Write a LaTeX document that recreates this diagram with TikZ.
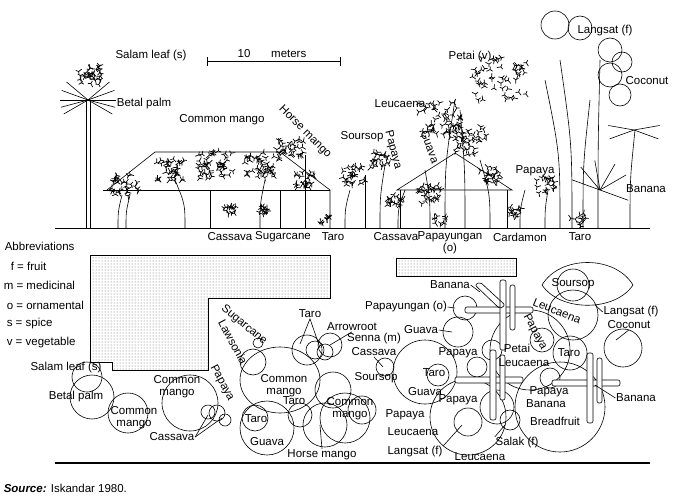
\documentclass[tikz,border=0pt]{standalone}
\usepackage{fontspec}
\setmainfont{Liberation Sans}
\usetikzlibrary{patterns}
\begin{document}
\pgfmathsetseed{7}
\newcommand\crown[4]{\foreach \k in {1,...,#4}{\pgfmathsetmacro\xx{#1+rand*#3}\pgfmathsetmacro\yy{#2+rand*#3*0.8}\pgfmathsetmacro\aa{rand*180}\draw[leaf] (\xx,\yy) -- ++(\aa:4) (\xx,\yy) -- ++(\aa+120:3) (\xx,\yy) -- ++(\aa+240:3);}}
\begin{tikzpicture}[x=1pt,y=-1pt,line width=0.6pt,
  lbl/.style={font=\fontsize{11.5}{12}\selectfont,inner sep=0.5pt},
  leaf/.style={line width=0.7pt},
  plan/.style={line width=0.6pt},
  bar/.style={line width=0.6pt,rounded corners=2pt}]
\useasboundingbox (0,0) rectangle (676,495);
% ---------- elevation ----------
\coordinate (g1) at (55,228); \coordinate (g2) at (650,228);
\draw[line width=0.8pt] (g1) -- (g2);
\coordinate (s1) at (207,61); \coordinate (s2) at (340,61);
\draw (s1) -- (s2); \draw (207,57)--(207,66); \draw (340,57)--(340,66);
\node[lbl] (scale) at (272,54) {10\hspace{1.8em}meters};
% house 1
\draw (103,190) -- (330,190);
\draw (107,190) -- (155,152) -- (280,152) -- (330,190) -- (330,228);
% house 2
\draw (397,190) -- (455,153) -- (512,190) -- cycle;
\draw (400,190) -- (400,228); \draw (507,190) -- (507,228);
% trunks
\foreach \a/\b/\c/\d in {118/228/122/195, 126/228/130/195, 185/228/175/180, 210/228/210/190,
  260/228/265/180, 280/228/280/190, 305/228/305/155, 345/228/350/190, 365/228/365/175, 380/228/385/165,
  398/228/405/190, 430/228/425/170, 445/228/455/100, 465/228/460/110, 490/228/480/160, 520/228/525/190,
  545/228/548/190, 560/228/545/80, 572/228/560/60, 583/228/590/100, 598/228/600/60, 630/228/635/130}
  {\draw (\a,\b) .. controls (\a,{(\b+\d)/2}) .. (\c,\d);}
\draw (86,228) -- (86,100); \draw (90,228) -- (90,100);
% palm fronds
\foreach \ang in {150,165,180,200,220,320,340,0,15,30}{\draw (88,100) -- ++(\ang:28);}
\foreach \ang in {160,190,350,20}{\draw (634,130) -- ++(\ang:26);}
% crowns
\crown{90}{75}{12}{30}
\crown{125}{185}{14}{30}
\crown{170}{170}{14}{35}
\crown{215}{165}{18}{45}
\crown{260}{165}{16}{40}
\crown{290}{150}{14}{30}
\crown{305}{180}{10}{20}
\crown{355}{175}{12}{25}
\crown{380}{160}{10}{20}
\crown{395}{200}{8}{15}
\crown{430}{195}{12}{25}
\crown{440}{120}{22}{50}
\crown{470}{140}{18}{35}
\crown{490}{175}{10}{20}
\crown{500}{80}{28}{50}
\crown{545}{185}{10}{18}
\crown{230}{210}{6}{12}
\crown{263}{210}{6}{12}
\crown{325}{220}{5}{8}
\crown{440}{220}{6}{8}
\crown{515}{212}{6}{12}
\crown{578}{220}{8}{10}
\foreach \cx/\cy/\r in {555/25/14, 580/28/12, 610/50/12, 622/62/10, 610/75/12, 620/95/11}{\draw (\cx,\cy) circle (\r);}
% banana leaves
\foreach \ang in {200,230,260,300,330,20}{\draw (600,190) -- ++(\ang:30);}
% elevation labels
\node[lbl] (e1) at (151,56) {Salam leaf (s)};
\node[lbl] (e2) at (144,104) {Betal palm};
\node[lbl] (e3) at (222,120) {Common mango};
\node[lbl,rotate=-45] (e4) at (305,132) {Horse mango};
\node[lbl] (e5) at (362,137) {Soursop};
\node[lbl,rotate=-75] (e6) at (393,150) {Papaya};
\node[lbl] (e7) at (400,104) {Leucaena};
\node[lbl,rotate=-70] (e8) at (430,147) {Guava};
\node[lbl] (e9) at (470,57) {Petai (v)};
\node[lbl] (e10) at (605,31) {Langsat (f)};
\node[lbl] (e11) at (647,81) {Coconut};
\node[lbl] (e12) at (535,171) {Papaya};
\node[lbl] (e13) at (646,189) {Banana};
\node[lbl] (e14) at (230,237) {Cassava};
\node[lbl] (e15) at (283,237) {Sugarcane};
\node[lbl] (e16) at (333,237) {Taro};
\node[lbl] (e17) at (396,237) {Cassava};
\node[lbl] (e18) at (450,237) {Papayungan};
\node[lbl] (e18b) at (450,249) {(o)};
\node[lbl] (e19) at (520,237) {Cardamon};
\node[lbl] (e20) at (580,237) {Taro};
% abbreviations
\node[lbl,anchor=west] (ab) at (4,246) {Abbreviations};
\node[lbl,anchor=west] (ab1) at (10,266) {f = fruit};
\node[lbl,anchor=west] (ab2) at (3,285) {m = medicinal};
\node[lbl,anchor=west] (ab3) at (6,305) {o = ornamental};
\node[lbl,anchor=west] (ab4) at (6,324) {s = spice};
\node[lbl,anchor=west] (ab5) at (6,343) {v = vegetable};
% ---------- plan ----------
\draw[pattern=dots,pattern color=black!60] (90,255) -- (330,255) -- (330,298) -- (208,298) -- (208,370) -- (112,370) -- (112,362) -- (90,362) -- cycle;
\draw[pattern=dots,pattern color=black!60] (396,258) rectangle (516,276);
\coordinate (b1) at (55,463); \coordinate (b2) at (650,463);
\draw[line width=1.4pt] (b1) -- (b2);
\foreach \cx/\cy/\r in {87/377/15, 92/397/22, 128/413/20, 190/403/28, 217/413/8, 208/412/7, 225/420/6,
  253/362/13, 258/343/5, 307/350/15, 315/350/9, 325/352/8, 267/428/27, 255/418/13, 333/390/18,
  345/418/25, 325/425/22, 362/410/14, 385/367/9, 425/372/32, 438/375/11, 465/308/12, 458/332/15,
  492/350/10, 477/367/10, 468/417/38, 468/422/14, 497/407/17, 510/420/10, 560/407/45, 530/350/40,
  542/340/12, 550/378/10, 570/353/17, 573/315/25, 573/285/16, 623/348/19, 330/345/12, 300/415/12}
  {\draw[plan] (\cx,\cy) circle (\r);}
\draw[plan] (280,380) ellipse (40 and 33);
\draw[plan] (542,285) .. controls (560,255) and (615,255) .. (633,285) .. controls (615,312) and (560,312) .. (542,285);
% banana crosses
\foreach \cx/\cy in {503/310, 493/380, 590/383}{
  \draw[bar,fill=white] ({\cx-38},{\cy-3}) rectangle ({\cx+30},{\cy+3});
  \draw[bar,fill=white] ({\cx-3},{\cy-30}) rectangle ({\cx+3},{\cy+40});
  \draw[bar,fill=white] ({\cx+7},{\cy-25}) rectangle ({\cx+12},{\cy+20});}
\draw[bar] (475,285) -- (480,282) -- (505,305) -- (500,309) -- cycle;
% plan labels
\node[lbl] (p1) at (66,368) {Salam leaf (s)};
\node[lbl] (p2) at (76,397) {Betal palm};
\node[lbl,align=center] (p3) at (134,418) {Common\\mango};
\node[lbl,align=center] (p4) at (177,387) {Common\\mango};
\node[lbl,rotate=-62] (p5) at (222,383) {Papaya};
\node[lbl] (p6) at (172,437) {Cassava};
\node[lbl,rotate=-40] (p7) at (244,325) {Sugarcane};
\node[lbl,rotate=-62] (p8) at (233,342) {Lawsonia};
\node[lbl] (p9) at (310,314) {Taro};
\node[lbl] (p10) at (352,327) {Arrowroot};
\node[lbl] (p11) at (374,339) {Senna (m)};
\node[lbl] (p12) at (374,352) {Cassava};
\node[lbl,align=center] (p13) at (284,386) {Common\\mango};
\node[lbl] (p14) at (294,401) {Taro};
\node[lbl] (p15) at (256,419) {Taro};
\node[lbl] (p16) at (267,442) {Guava};
\node[lbl] (p17) at (322,455) {Horse mango};
\node[lbl] (p18) at (376,378) {Soursop};
\node[lbl,align=center] (p19) at (350,409) {Common\\mango};
\node[lbl] (p20) at (405,415) {Papaya};
\node[lbl] (p21) at (413,432) {Leucaena};
\node[lbl] (p22) at (415,452) {Langsat (f)};
\node[lbl] (p23) at (480,457) {Leucaena};
\node[lbl] (p24) at (517,443) {Salak (f)};
\node[lbl] (p25) at (555,421) {Breadfruit};
\node[lbl] (p26) at (546,404) {Banana};
\node[lbl] (p27) at (549,392) {Papaya};
\node[lbl] (p28) at (636,398) {Banana};
\node[lbl] (p29) at (524,363) {Leucaena};
\node[lbl] (p30) at (517,348) {Petai};
\node[lbl] (p31) at (569,353) {Taro};
\node[lbl] (p32) at (458,353) {Papaya};
\node[lbl] (p33) at (434,373) {Taro};
\node[lbl] (p34) at (425,392) {Guava};
\node[lbl] (p35) at (421,330) {Guava};
\node[lbl] (p36) at (406,307) {Papayungan (o)};
\node[lbl] (p37) at (450,285) {Banana};
\node[lbl] (p38) at (573,284) {Soursop};
\node[lbl,rotate=-22] (p39) at (557,311) {Leucaena};
\node[lbl,rotate=-62] (p40) at (535,332) {Papaya};
\node[lbl] (p41) at (631,312) {Langsat (f)};
\node[lbl] (p42) at (629,325) {Coconut};
\node[lbl] (p43) at (458,400) {Papaya};
% leaders
\coordinate (c1) at (208,415); \coordinate (c2) at (222,418);
\draw (p6.east) -- (c1); \draw (p6.east) -- (c2);
\coordinate (t1) at (300,344); \coordinate (t2) at (320,348);
\draw (p9.south) -- (t1); \draw (p9.south) -- (t2);
\coordinate (ar) at (330,345); \draw (p10.south) -- (ar);
\coordinate (sc) at (383,367); \draw (p12.south) -- (sc);
\coordinate (pu) at (455,308); \draw (p36.east) -- (pu);
\coordinate (gu) at (452,332); \draw (p35.east) -- (gu);
\coordinate (bn) at (480,292); \draw (p37.east) -- (bn);
\coordinate (bn2) at (595,385); \draw (p28.west) -- (bn2);
\coordinate (ls) at (595,305); \draw (p41.west) -- (ls);
\coordinate (co) at (616,340); \draw (p42.south) -- (co);
\coordinate (lg) at (462,425); \draw (p22.north east) -- (lg);
\coordinate (sk) at (505,425); \draw (p24.north west) -- (sk);
\coordinate (hm) at (320,425); \draw (p17.north) -- (hm);
% source
\node[lbl,anchor=west] (src) at (3,488) {\textbf{\textit{Source:}} Iskandar 1980.};
\end{tikzpicture}
\end{document}
